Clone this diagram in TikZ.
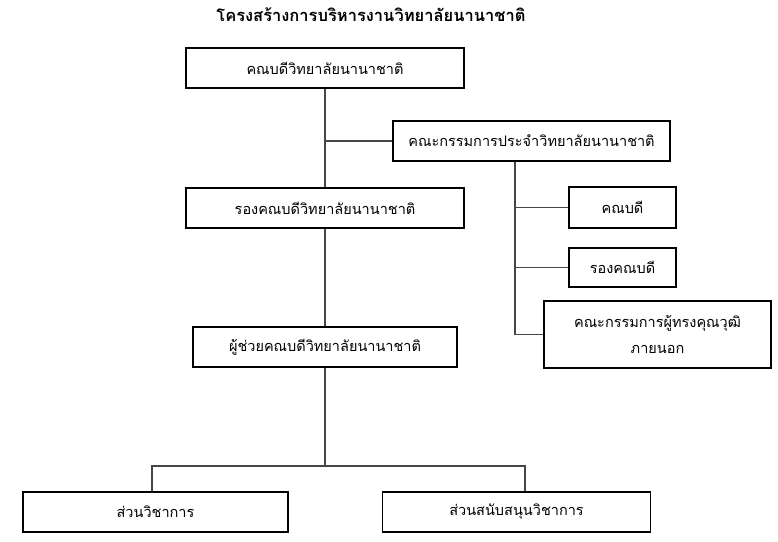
\documentclass[tikz,border=0pt]{standalone}
\usepackage{fontspec}
\newfontfamily\thaifont[Script=Thai]{Loma}
\usetikzlibrary{positioning, calc}
\definecolor{linegray}{RGB}{70,70,70}

\begin{document}
\begin{tikzpicture}[x=1pt, y=-1pt,
    orgbox/.style={draw, line width=1.3pt, inner sep=0pt, minimum height=40pt,
        align=center, font=\thaifont\fontsize{14.5}{16}\selectfont},
    link/.style={draw=linegray, line width=1.3pt}]
    \useasboundingbox (0,0) rectangle (778,541);

    % Title
    \node[font=\thaifont\bfseries\fontsize{16.5}{19}\selectfont] (title) at (371,15) {โครงสร้างการบริหารงานวิทยาลัยนานาชาติ};

    % Main line
    \node[orgbox, minimum width=278pt] (dean) at (325,68) {คณบดีวิทยาลัยนานาชาติ};
    \node[orgbox, minimum width=278pt] (vice) at (325,208) {รองคณบดีวิทยาลัยนานาชาติ};
    \node[orgbox, minimum width=264pt] (asst) at (325,347) {ผู้ช่วยคณบดีวิทยาลัยนานาชาติ};

    % Committee and its members
    \node[orgbox, minimum width=277pt] (board) at (531.5,141) {คณะกรรมการประจำวิทยาลัยนานาชาติ};
    \node[orgbox, minimum width=107pt, minimum height=41pt] (deanm) at (622.5,207.5) {คณบดี};
    \node[orgbox, minimum width=107pt, minimum height=39pt] (vicem) at (622.5,267.5) {รองคณบดี};
    \node[orgbox, minimum width=227pt, minimum height=67pt] (expert) at (657.5,334.5) {คณะกรรมการผู้ทรงคุณวุฒิ\\[10pt]ภายนอก};

    % Divisions
    \node[orgbox, minimum width=265pt] (acad) at (155.5,512) {ส่วนวิชาการ};
    \node[orgbox, minimum width=268pt] (support) at (516.5,512) {ส่วนสนับสนุนวิชาการ};

    % Connectors
    \draw[link] (dean.south) -- (vice.north);
    \draw[link] (vice.south) -- (asst.north);
    \draw[link] (board.west) -- (board.west -| dean.south);
    \coordinate (split) at (asst.south |- 0,466);
    \draw[link] (asst.south) -- (split);
    \draw[link] ([xshift=-3.5pt]acad.north) |- (split) -| ([xshift=8.5pt]support.north);
    \coordinate (rail) at (515,0);
    \draw[link] (board.south -| rail) |- (expert.west);
    \draw[link] (deanm.west) -- (deanm.west -| rail);
    \draw[link] (vicem.west) -- (vicem.west -| rail);
\end{tikzpicture}
\end{document}
